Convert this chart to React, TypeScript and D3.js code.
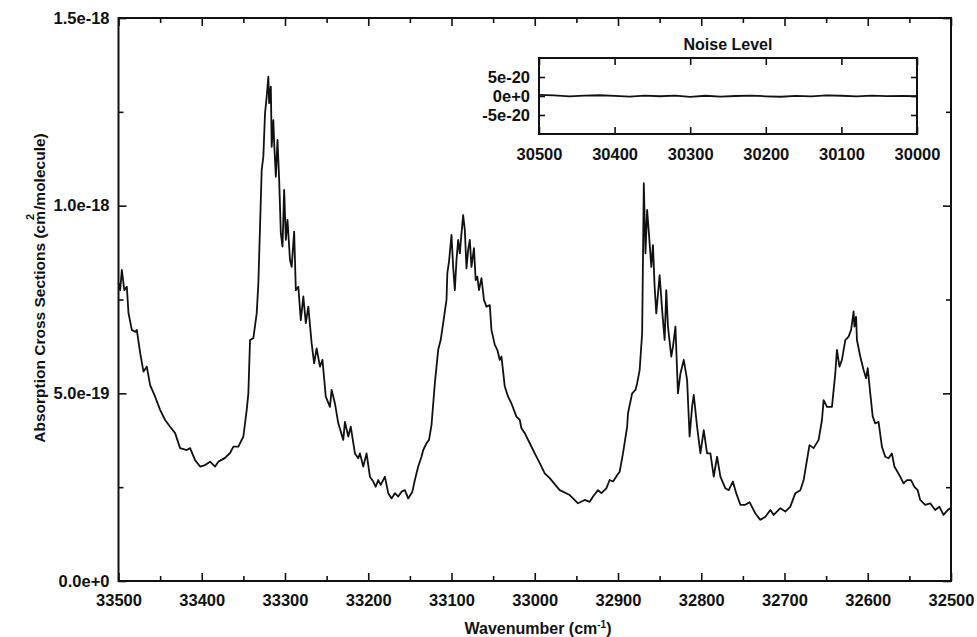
import { useEffect, useRef, useCallback } from 'react';
import * as d3 from 'd3';

// wavenumber (cm-1) of each sample
const wavenumbers = [
  33500, 33498, 33496, 33493, 33490, 33488, 33484, 33480, 33478, 33474, 33470,
  33466, 33462, 33456, 33450, 33444, 33438, 33432, 33426, 33418, 33414,
  33408, 33402, 33396, 33390, 33384, 33380, 33372, 33366, 33362, 33356,
  33350, 33346, 33344, 33342, 33338, 33334, 33332, 33330, 33328, 33326,
  33324, 33322, 33320, 33319, 33317, 33316, 33314, 33313, 33311, 33309,
  33307, 33305, 33303, 33301, 33299, 33297, 33294, 33292, 33289, 33287,
  33284, 33281, 33278, 33275, 33272, 33268, 33265, 33262, 33258, 33255,
  33251, 33246, 33244, 33240, 33236, 33230, 33228, 33224, 33221, 33216,
  33212, 33210, 33206, 33202, 33198, 33194, 33191, 33188, 33185, 33180,
  33176, 33172, 33168, 33164, 33160, 33156, 33152, 33147, 33144, 33140,
  33136, 33134, 33130, 33127, 33124, 33120, 33116, 33113, 33110, 33106,
  33105, 33103, 33100, 33098, 33096, 33094, 33092, 33090, 33088, 33086,
  33084, 33082, 33080, 33078, 33076, 33073, 33071, 33069, 33067, 33064,
  33061, 33058, 33054, 33052, 33048, 33045, 33042, 33040, 33036, 33032,
  33028, 33022, 33018, 33016, 33012, 33006, 33000, 32994, 32988, 32982,
  32970, 32958, 32948, 32940, 32934, 32930, 32924, 32920, 32914, 32910,
  32906, 32901, 32898, 32894, 32889, 32888, 32883, 32879, 32877, 32874,
  32871, 32870, 32869, 32867, 32865, 32862, 32860, 32858, 32856, 32854,
  32850, 32847, 32844, 32842, 32840, 32836, 32834, 32831, 32828, 32825,
  32821, 32817, 32814, 32811, 32809, 32805, 32801, 32797, 32793, 32789,
  32785, 32781, 32777, 32771, 32767, 32762, 32758, 32753, 32747, 32742,
  32735, 32729, 32723, 32717, 32713, 32705, 32699, 32693, 32687, 32681,
  32677, 32673, 32670, 32665, 32659, 32655, 32653, 32649, 32643, 32639,
  32637, 32634, 32631, 32627, 32623, 32620, 32617, 32616, 32614, 32613,
  32609, 32605, 32602, 32600, 32597, 32594, 32591, 32587, 32583, 32579,
  32575, 32571, 32568, 32561, 32557, 32553, 32548, 32544, 32540, 32537,
  32531, 32525, 32519, 32514, 32509, 32504, 32501
];

// absorption cross section, in units of 1e-19 cm2/molecule
const crossSections = [
  7.95, 7.75, 8.29, 7.75, 7.84, 7.14, 6.69, 6.64, 6.69, 6.08, 5.58,
  5.71, 5.22, 4.91, 4.56, 4.29, 4.11, 3.94, 3.54, 3.49, 3.54,
  3.22, 3.05, 3.09, 3.18, 3.05, 3.18, 3.28, 3.41, 3.58, 3.58,
  3.85, 4.56, 5.0, 6.42, 6.47, 7.13, 7.93, 9.44, 10.95, 11.31,
  12.46, 12.9, 13.44, 12.73, 13.17, 11.57, 12.28, 11.66, 10.77, 11.75,
  10.68, 9.26, 8.91, 10.42, 9.09, 9.62, 8.55, 8.37, 9.31, 7.75,
  7.84, 6.95, 7.58, 6.87, 7.31, 6.33, 5.8, 6.2, 5.71, 5.89,
  4.91, 4.64, 5.09, 4.73, 4.2, 3.76, 4.24, 3.85, 4.11, 3.4,
  3.27, 3.4, 3.05, 3.4, 2.78, 2.65, 2.51, 2.69, 2.56, 2.78,
  2.34, 2.2, 2.34, 2.25, 2.38, 2.42, 2.2, 2.38, 2.69, 3.05,
  3.31, 3.49, 3.67, 3.76, 4.16, 5.27, 6.16, 6.42, 6.87, 7.49,
  8.2, 8.51, 9.22, 8.37, 7.75, 8.55, 9.09, 8.73, 9.26, 9.75,
  9.35, 8.33, 8.82, 9.09, 8.37, 8.87, 8.02, 8.11, 7.75, 8.07,
  7.49, 7.31, 7.35, 6.69, 6.29, 6.16, 5.89, 5.98, 5.18, 4.91,
  4.73, 4.38, 4.29, 4.07, 3.94, 3.67, 3.4, 3.14, 2.87, 2.74,
  2.42, 2.29, 2.07, 2.16, 2.11, 2.25, 2.42, 2.34, 2.47, 2.69,
  2.65, 2.82, 2.91, 3.4, 4.11, 4.47, 5.0, 5.09, 5.27, 5.62,
  6.6, 8.55, 10.6, 8.73, 9.89, 9.0, 8.37, 8.95, 7.84, 7.13,
  8.15, 7.22, 6.42, 7.75, 6.78, 5.98, 6.24, 6.78, 5.0, 5.53,
  5.89, 5.36, 3.85, 4.64, 4.96, 4.11, 3.4, 4.02, 3.4, 3.4,
  2.78, 3.31, 2.78, 2.47, 2.42, 2.65, 2.34, 2.03, 2.03, 2.1,
  1.8, 1.63, 1.71, 1.89, 1.76, 1.94, 1.85, 1.98, 2.34, 2.42,
  2.69, 3.22, 3.62, 3.54, 3.76, 4.29, 4.82, 4.64, 4.64, 5.53,
  6.16, 5.71, 5.89, 6.42, 6.51, 6.69, 7.18, 6.78, 7.04, 6.42,
  5.98, 5.62, 5.4, 5.67, 5.0, 4.38, 4.2, 4.24, 3.58, 3.31,
  3.27, 3.4, 3.05, 2.78, 2.6, 2.69, 2.69, 2.51, 2.42, 2.16,
  2.03, 2.07, 1.89, 1.98, 1.76, 1.89, 1.94
];

const xMajorTicks = [33500, 33400, 33300, 33200, 33100, 33000, 32900, 32800, 32700, 32600, 32500];
const xMinorTicks = [33450, 33350, 33250, 33150, 33050, 32950, 32850, 32750, 32650, 32550];
const yTickValues = [0, 5e-19, 1e-18, 1.5e-18];
const yTickLabels = ['0.0e+0', '5.0e-19', '1.0e-18', '1.5e-18'];
const yMinorTicks = [2.5e-19, 7.5e-19, 1.25e-18];

// inset: noise level, values in units of 1e-21
const noiseWavenumbers = [
  30500, 30480, 30460, 30440, 30420, 30400, 30380, 30360, 30340, 30320, 30300,
  30280, 30260, 30240, 30220, 30200, 30180, 30160, 30140, 30120, 30100,
  30080, 30060, 30040, 30020, 30000
];
const noiseValues = [
  3.0, 1.5, -1.0, 1.2, 2.0, 0.5, -1.5, 0.8, -0.6, 1.0, -2.5,
  0.6, -1.8, 0.0, 1.2, -0.8, -2.0, 0.4, -1.0, 1.4, 0.6,
  -1.2, 0.8, -0.4, 0.2, -0.6
];
const insetXTicks = [30500, 30400, 30300, 30200, 30100, 30000];
const insetYTickValues = [5e-20, 0, -5e-20];
const insetYTickLabels = ['5e-20', '0e+0', '-5e-20'];

const FONT = "'Liberation Sans', Arial, Helvetica, sans-serif";
const W = 977;
const H = 637;

const styleAxis = (g: d3.Selection<SVGGElement, unknown, null, undefined>, fontSize: number) => {
  g.select('.domain').remove();
  g.selectAll('line').attr('stroke', '#111').attr('stroke-width', 1.6);
  g.selectAll('text')
    .attr('fill', '#111')
    .style('font-family', FONT)
    .style('font-weight', 'bold')
    .style('font-size', `${fontSize}px`);
};

export default function App() {
  const chartRef = useRef<SVGSVGElement | null>(null);

  const drawChart = useCallback(() => {
    if (!chartRef.current) return;
    const svg = d3.select(chartRef.current);
    svg.selectAll('*').remove();

    const margin = { top: 18, right: 26, bottom: 56, left: 118.5 };
    const innerWidth = W - margin.left - margin.right;
    const innerHeight = H - margin.top - margin.bottom;

    const x = d3.scaleLinear().domain([33500, 32500]).range([0, innerWidth]);
    const y = d3.scaleLinear().domain([0, 1.5e-18]).range([innerHeight, 0]);

    svg.append('rect').attr('width', W).attr('height', H).attr('fill', '#fff');

    const g = svg.append('g').attr('transform', `translate(${margin.left}, ${margin.top})`);

    // spectrum
    const points: [number, number][] = wavenumbers.map((w, i) => [w, crossSections[i] * 1e-19]);
    const line = d3
      .line<[number, number]>()
      .x((d) => x(d[0]))
      .y((d) => y(d[1]));
    g.append('path')
      .datum(points)
      .attr('d', line)
      .attr('fill', 'none')
      .attr('stroke', '#111')
      .attr('stroke-width', 1.8)
      .attr('stroke-linejoin', 'round');

    // axes, ticks pointing inwards on all four sides
    const bottom = g
      .append('g')
      .attr('transform', `translate(0, ${innerHeight})`)
      .call(d3.axisBottom(x).tickValues(xMajorTicks).tickSize(-8).tickSizeOuter(0).tickPadding(13).tickFormat(d3.format('d')));
    styleAxis(bottom, 16.5);
    const bottomMinor = g
      .append('g')
      .attr('transform', `translate(0, ${innerHeight})`)
      .call(d3.axisBottom(x).tickValues(xMinorTicks).tickSize(-5).tickSizeOuter(0).tickFormat(() => ''));
    styleAxis(bottomMinor, 10);
    const top = g
      .append('g')
      .call(d3.axisTop(x).tickValues(xMajorTicks).tickSize(-8).tickSizeOuter(0).tickFormat(() => ''));
    styleAxis(top, 10);
    const topMinor = g
      .append('g')
      .call(d3.axisTop(x).tickValues(xMinorTicks).tickSize(-5).tickSizeOuter(0).tickFormat(() => ''));
    styleAxis(topMinor, 10);

    const left = g
      .append('g')
      .call(
        d3
          .axisLeft(y)
          .tickValues(yTickValues)
          .tickSize(-8)
          .tickSizeOuter(0)
          .tickPadding(9)
          .tickFormat((_, i) => yTickLabels[i])
      );
    styleAxis(left, 16.5);
    const leftMinor = g
      .append('g')
      .call(d3.axisLeft(y).tickValues(yMinorTicks).tickSize(-5).tickSizeOuter(0).tickFormat(() => ''));
    styleAxis(leftMinor, 10);
    const right = g
      .append('g')
      .attr('transform', `translate(${innerWidth}, 0)`)
      .call(d3.axisRight(y).tickValues(yTickValues).tickSize(-8).tickSizeOuter(0).tickFormat(() => ''));
    styleAxis(right, 10);
    const rightMinor = g
      .append('g')
      .attr('transform', `translate(${innerWidth}, 0)`)
      .call(d3.axisRight(y).tickValues(yMinorTicks).tickSize(-5).tickSizeOuter(0).tickFormat(() => ''));
    styleAxis(rightMinor, 10);

    g.append('rect')
      .attr('width', innerWidth)
      .attr('height', innerHeight)
      .attr('fill', 'none')
      .attr('stroke', '#111')
      .attr('stroke-width', 2);

    // axis titles
    const xTitle = svg
      .append('text')
      .attr('x', 538)
      .attr('y', 634)
      .attr('text-anchor', 'middle')
      .style('font-family', FONT)
      .style('font-weight', 'bold')
      .style('font-size', '16px')
      .attr('fill', '#111');
    xTitle.append('tspan').text('Wavenumber (cm');
    xTitle.append('tspan').attr('dy', -6).style('font-size', '10px').text('-1');
    xTitle.append('tspan').attr('dy', 6).text(')');

    const yTitle = svg
      .append('text')
      .attr('transform', 'translate(45, 288) rotate(-90)')
      .attr('text-anchor', 'middle')
      .style('font-family', FONT)
      .style('font-weight', 'bold')
      .style('font-size', '15.5px')
      .attr('fill', '#111');
    yTitle.append('tspan').text('Absorption Cross Sections (cm');
    yTitle.append('tspan').attr('dx', -9).attr('dy', -11).style('font-size', '11px').text('2');
    yTitle.append('tspan').attr('dx', 4).attr('dy', 11).text('/molecule)');

    // inset
    const inset = { left: 539, right: 917, top: 58, bottom: 134 };
    const xi = d3.scaleLinear().domain([30500, 30000]).range([0, inset.right - inset.left]);
    const yi = d3.scaleLinear().domain([-1e-19, 1e-19]).range([inset.bottom - inset.top, 0]);
    const ig = svg.append('g').attr('transform', `translate(${inset.left}, ${inset.top})`);
    const iw = inset.right - inset.left;
    const ih = inset.bottom - inset.top;

    ig.append('rect').attr('width', iw).attr('height', ih).attr('fill', '#fff');

    const noisePoints: [number, number][] = noiseWavenumbers.map((w, i) => [w, noiseValues[i] * 1e-21]);
    ig.append('path')
      .datum(noisePoints)
      .attr('d', d3.line<[number, number]>().x((d) => xi(d[0])).y((d) => yi(d[1])))
      .attr('fill', 'none')
      .attr('stroke', '#111')
      .attr('stroke-width', 1.8);

    const ib = ig
      .append('g')
      .attr('transform', `translate(0, ${ih})`)
      .call(d3.axisBottom(xi).tickValues(insetXTicks).tickSize(-7).tickSizeOuter(0).tickPadding(14).tickFormat(d3.format('d')));
    styleAxis(ib, 16.5);
    const it = ig
      .append('g')
      .call(d3.axisTop(xi).tickValues(insetXTicks).tickSize(-7).tickSizeOuter(0).tickFormat(() => ''));
    styleAxis(it, 10);
    const il = ig
      .append('g')
      .call(
        d3
          .axisLeft(yi)
          .tickValues(insetYTickValues)
          .tickSize(-6)
          .tickSizeOuter(0)
          .tickPadding(9)
          .tickFormat((_, i) => insetYTickLabels[i])
      );
    styleAxis(il, 16.5);
    const ir = ig
      .append('g')
      .attr('transform', `translate(${iw}, 0)`)
      .call(d3.axisRight(yi).tickValues(insetYTickValues).tickSize(-6).tickSizeOuter(0).tickFormat(() => ''));
    styleAxis(ir, 10);

    ig.append('rect')
      .attr('width', iw)
      .attr('height', ih)
      .attr('fill', 'none')
      .attr('stroke', '#111')
      .attr('stroke-width', 2);

    svg
      .append('text')
      .attr('x', 728)
      .attr('y', 50)
      .attr('text-anchor', 'middle')
      .style('font-family', FONT)
      .style('font-weight', 'bold')
      .style('font-size', '16px')
      .attr('fill', '#111')
      .text('Noise Level');
  }, []);

  useEffect(() => {
    drawChart();
  }, [drawChart]);

  return (
    <svg
      ref={chartRef}
      width={W}
      height={H}
      style={{ position: 'absolute', left: 0, top: 0, display: 'block' }}
    />
  );
}
